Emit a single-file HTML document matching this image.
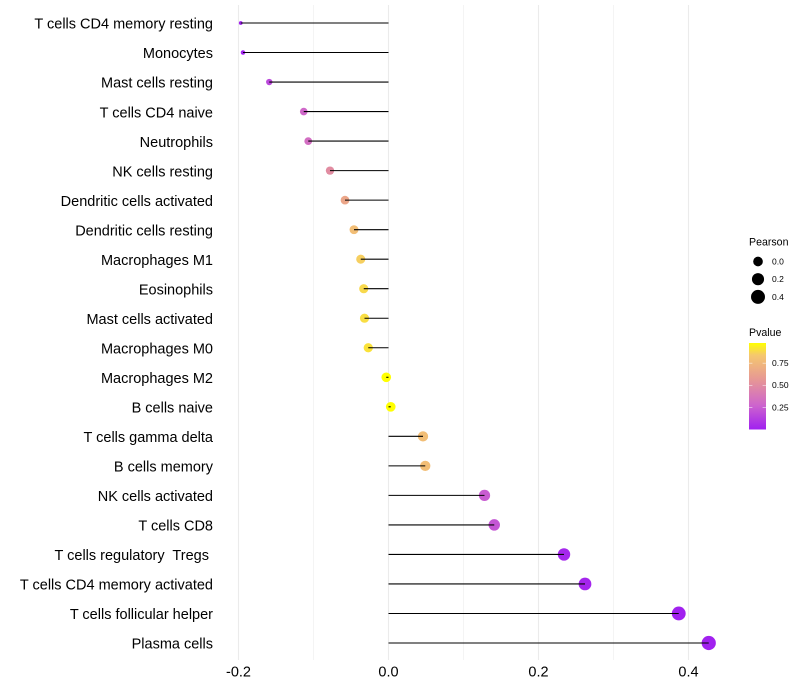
<!DOCTYPE html>
<html>
<head>
<meta charset="utf-8">
<title>Immune cell correlation lollipop chart</title>
<style>
html,body{margin:0;padding:0;background:#fff;}
svg{display:block;font-family:"Liberation Sans",Arial,sans-serif;}
text{white-space:pre;}
</style>
</head>
<body>
<svg id="chart" xmlns="http://www.w3.org/2000/svg" width="800" height="700" viewBox="0 0 800 700">
  <defs>
    <linearGradient id="pvalue-gradient" x1="0" y1="1" x2="0" y2="0">
      <stop offset="0" stop-color="#a020f0"/>
      <stop offset="0.28" stop-color="#cd64cd"/>
      <stop offset="0.57" stop-color="#e69696"/>
      <stop offset="0.86" stop-color="#f5c86e"/>
      <stop offset="1" stop-color="#ffff00"/>
    </linearGradient>
  </defs>
  <g id="grid"></g>
  <g id="points"></g>
  <g id="segments"></g>
  <g id="ylabels"></g>
  <g id="xlabels"></g>
  <g>
    <text x="749" y="245.5" font-size="10.6" fill="#000">Pearson</text>
    <g id="size-legend"></g>
  </g>
  <g>
    <text x="749" y="336" font-size="10.6" fill="#000">Pvalue</text>
    <rect x="749" y="343" width="17" height="86.5" fill="url(#pvalue-gradient)"/>
    <g id="color-legend"></g>
  </g>
</svg>
<script>
var categories = ["T cells CD4 memory resting","Monocytes","Mast cells resting","T cells CD4 naive","Neutrophils","NK cells resting","Dendritic cells activated","Dendritic cells resting","Macrophages M1","Eosinophils","Mast cells activated","Macrophages M0","Macrophages M2","B cells naive","T cells gamma delta","B cells memory","NK cells activated","T cells CD8","T cells regulatory  Tregs ","T cells CD4 memory activated","T cells follicular helper","Plasma cells"];
var pearson = [-0.197,-0.194,-0.159,-0.113,-0.107,-0.078,-0.058,-0.046,-0.037,-0.033,-0.032,-0.027,-0.003,0.003,0.046,0.049,0.128,0.141,0.234,0.262,0.387,0.427];
var pvalues = [0.005,0.01,0.15,0.27,0.3,0.45,0.58,0.7,0.78,0.82,0.84,0.86,0.98,0.98,0.7,0.7,0.22,0.2,0.03,0.02,0.005,0.005];
var xMajorTicks = [-0.2,0,0.2,0.4];
var xMinorTicks = [-0.1,0.1,0.3];
var xTickLabels = ["-0.2","0.0","0.2","0.4"];
var sizeLegendValues = [0,0.2,0.4];
var sizeLegendLabels = ["0.0","0.2","0.4"];
var colorLegendValues = [0.25,0.5,0.75];
var colorLegendLabels = ["0.25","0.50","0.75"];

var NS = "http://www.w3.org/2000/svg";
function xScale(v){ return 388.5 + v * 750; }
function yScale(i){ return 23 + i * (620 / (categories.length - 1)); }
function pScale(p){ return 429 - (p - 0.005) * 88.4; }
function sizeScale(v){
  var lo = Math.min.apply(null, pearson), hi = Math.max.apply(null, pearson);
  var t = Math.max(0, (v - lo) / ((hi - lo) || 1));
  return 3.8 + 10.4 * Math.sqrt(t);
}
function colorScale(p){
  var s = [[0,[160,32,240]],[0.25,[205,100,205]],[0.5,[230,150,150]],[0.75,[245,200,110]],[0.98,[255,255,0]]];
  for (var i = 1; i < s.length; i++) {
    if (p <= s[i][0] || i === s.length - 1) {
      var t = Math.min(1, Math.max(0, (p - s[i-1][0]) / (s[i][0] - s[i-1][0])));
      return "rgb(" + [0,1,2].map(function(k){ return Math.round(s[i-1][1][k] + t * (s[i][1][k] - s[i-1][1][k])); }).join(",") + ")";
    }
  }
}
function make(parent, tag, attrs, text){
  var el = document.createElementNS(NS, tag);
  for (var k in attrs) el.setAttribute(k, attrs[k]);
  if (text !== undefined) el.textContent = text;
  parent.appendChild(el);
  return el;
}
var gridG = document.getElementById("grid");
var pointsG = document.getElementById("points");
var segG = document.getElementById("segments");
var yG = document.getElementById("ylabels");
var xG = document.getElementById("xlabels");
var sizeG = document.getElementById("size-legend");
var colorG = document.getElementById("color-legend");

xMinorTicks.forEach(function(t){
  var el = make(gridG, "line", {x1:xScale(t), x2:xScale(t), y1:5, y2:660, stroke:"#f2f2f2", "stroke-width":0.8});
  
  
});
xMajorTicks.forEach(function(t, i){
  var el = make(gridG, "line", {x1:xScale(t), x2:xScale(t), y1:5, y2:660, stroke:"#ebebeb", "stroke-width":1.05});
  
  
  var lab = make(xG, "text", {x:xScale(t), y:676.5, "font-size":14.5, "text-anchor":"middle", fill:"#000"}, xTickLabels[i]);
  
  
});
categories.forEach(function(c, i){
  var y = yScale(i);
  var lab = make(yG, "text", {x:213, y:y + 5.7, "font-size":14.5, "text-anchor":"end", fill:"#000"}, c);
  
  
  var pt = make(pointsG, "circle", {cx:xScale(pearson[i]), cy:y, r:sizeScale(pearson[i]) / 2, fill:colorScale(pvalues[i])});
  
  
  var seg = make(segG, "line", {x1:xScale(0), x2:xScale(pearson[i]), y1:y, y2:y, stroke:"#000", "stroke-width":1.07});
  
  
});
sizeLegendValues.forEach(function(v, i){
  var y = 261.5 + i * 17.7;
  var dot = make(sizeG, "circle", {cx:758, cy:y, r:sizeScale(v) / 2, fill:"#000"});
  
  
  var lab = make(sizeG, "text", {x:772, y:y + 3, "font-size":8.5, fill:"#000"}, sizeLegendLabels[i]);
  
  
});
colorLegendValues.forEach(function(v, i){
  var y = pScale(v);
  var t1 = make(colorG, "line", {x1:749, x2:752.4, y1:y, y2:y, stroke:"#fff", "stroke-width":0.5});
  
  
  var t2 = make(colorG, "line", {x1:762.6, x2:766, y1:y, y2:y, stroke:"#fff", "stroke-width":0.5});
  
  
  var lab = make(colorG, "text", {x:772, y:y + 3, "font-size":8.5, fill:"#000"}, colorLegendLabels[i]);
  
  
});
</script>
</body>
</html>
